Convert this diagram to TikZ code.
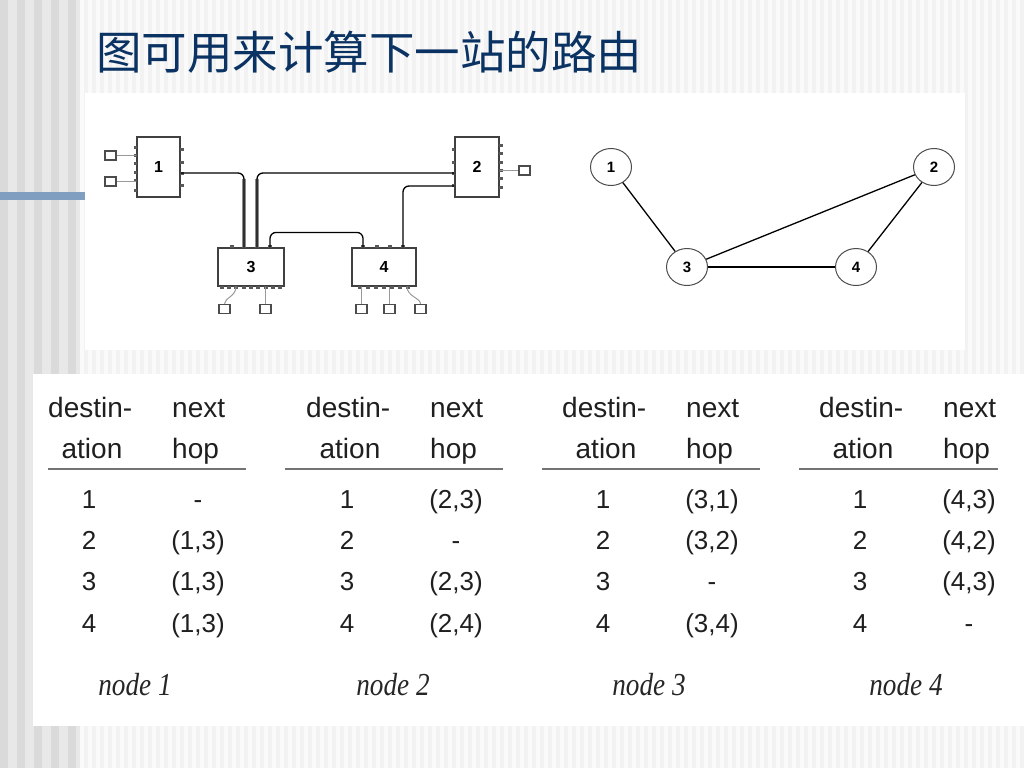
\documentclass[tikz,border=0pt]{standalone}
\usepackage{fontspec}
\setmainfont{Liberation Sans}
\newfontfamily\cjk{Noto Sans CJK SC}
\newfontfamily\tms{Liberation Serif}
\usetikzlibrary{calc,positioning,shapes.geometric}
\definecolor{titleblue}{RGB}{10,50,98}
\definecolor{barblue}{RGB}{128,158,192}
\definecolor{bgbase}{RGB}{242,242,242}
\definecolor{bglight}{RGB}{250,250,250}
\definecolor{stripedark}{RGB}{218,218,218}
\definecolor{stripelight}{RGB}{232,232,232}

\begin{document}
\begin{tikzpicture}[x=1pt,y=-1pt,
	router/.style={draw=black!75,line width=1.1pt,fill=white,inner sep=0pt,font=\bfseries\fontsize{16}{16}\selectfont},
	port/.style={fill=black!65},
	term/.style={draw=black!70,line width=1.3pt,fill=white,minimum width=11pt,minimum height=9pt,inner sep=0pt},
	wire/.style={draw=black!40,line width=1pt},
	link/.style={draw=black,line width=1.3pt,rounded corners=6pt},
	cableshade/.style={draw=black!45,line width=3.5pt},
	vertex/.style={ellipse,draw=black!70,line width=1pt,fill=white,minimum width=41pt,minimum height=37pt,inner sep=0pt,font=\bfseries\fontsize{15}{15}\selectfont},
	edge/.style={draw=black,line width=1.3pt},
	hdr/.style={font=\fontsize{28}{30}\selectfont,text=black!88,inner sep=0pt},
	cell/.style={font=\fontsize{26}{28}\selectfont,text=black!88,inner sep=0pt,anchor=base},
	tabrule/.style={draw=black!55,line width=2pt},
	tag/.style={font=\tms\itshape\fontsize{32}{32}\selectfont,text=black!85,inner sep=0pt,xscale=0.85}]
	
	\useasboundingbox (0,0) rectangle (1024,768);
	% background
	\fill[stripelight] (0,0) rectangle (80,768);
	\foreach \x in {0,17,...,68} \fill[stripedark] (\x,0) rectangle ++(8,768);
	\fill[bgbase] (80,0) rectangle (1024,768);
	\foreach \x in {80,88,...,1016} \fill[bglight] (\x,0) rectangle ++(4,768);
	\fill[barblue] (0,192) rectangle (85,200);
	\fill[white] (85,93) rectangle (965,350);
	\fill[white] (33,374) rectangle (1024,726);
	
	\node[anchor=base west,inner sep=0pt,font=\cjk\fontsize{45.5}{46}\selectfont,text=titleblue] (title) at (96,70) {图可用来计算下一站的路由};
	
	% routers and hosts
	\node[router,minimum width=43pt,minimum height=60pt] (r1) at (158.5,167) {1};
	\node[router,minimum width=44pt,minimum height=60pt] (r2) at (477,167) {2};
	\node[router,minimum width=66pt,minimum height=38pt] (r3) at (251,267) {3};
	\node[router,minimum width=64pt,minimum height=38pt] (r4) at (384,267) {4};
	
	\node[term] (t1a) at (110.5,155.5) {};
	\node[term] (t1b) at (110.5,181.5) {};
	\node[term] (t2a) at (524.5,170.5) {};
	\node[term] (t3a) at (224.5,309) {};
	\node[term] (t3b) at (265.5,309) {};
	\node[term] (t4a) at (361.5,309) {};
	\node[term] (t4b) at (389.5,309) {};
	\node[term] (t4c) at (420.5,309) {};
	
	\foreach \y in {147,155,163,172,180,190} \fill[port] (133.5,\y-1.5) rectangle ++(3.5,3);
	\foreach \y in {149,162,173,185} \fill[port] (180,\y-1.5) rectangle ++(3.5,3);
	\foreach \y in {149,162,173,185} \fill[port] (451.5,\y-1.5) rectangle ++(3.5,3);
	\foreach \y in {145,153,162,170,178,187} \fill[port] (499,\y-1.5) rectangle ++(3.5,3);
	\foreach \x in {232,244,257,270} \fill[port] (\x-1.75,244.5) rectangle ++(3.5,3.5);
	\foreach \x in {222,229,236,244,251,258,266,273,280} \fill[port] (\x-1.75,286) rectangle ++(3.5,3);
	\foreach \x in {363,377,390,403} \fill[port] (\x-1.75,244.5) rectangle ++(3.5,3.5);
	\foreach \x in {360,368,376,384,392,400,408} \fill[port] (\x-1.75,286) rectangle ++(3.5,3);
	
	\draw[wire] (t1a.east) -- (t1a.east -| r1.west);
	\draw[wire] (t1b.east) -- (t1b.east -| r1.west);
	\draw[wire] (r2.east |- t2a.west) -- (t2a.west);
	\draw[wire] ($(r3.south)+(-15,0)$) .. controls +(0,10) and +(0,-6) .. (t3a.north);
	\draw[wire] (t3b.north |- r3.south) -- (t3b.north);
	\draw[wire] (t4a.north |- r4.south) -- (t4a.north);
	\draw[wire] (t4b.north |- r4.south) -- (t4b.north);
	\draw[wire] ($(r4.south)+(23,0)$) .. controls +(0,10) and +(0,-6) .. (t4c.north);
	
	% links
	\draw[cableshade] ($(r3.north)+(-7,0)$) -- ++(0,-68);
	\draw[cableshade] ($(r3.north)+(6,0)$) -- ++(0,-68);
	\draw[link] ($(r1.east)+(0,6)$) -| ($(r3.north)+(-7,0)$);
	\draw[link] ($(r2.west)+(0,6)$) -| ($(r3.north)+(6,0)$);
	\draw[link] ($(r3.north)+(19,0)$) -- ++(0,-15) -| ($(r4.north)+(-21,0)$);
	\draw[link] ($(r4.north)+(19,0)$) |- ($(r2.west)+(0,19)$);
	
	% graph
	\node[vertex] (g1) at (611,167) {1};
	\node[vertex] (g2) at (934,167) {2};
	\node[vertex] (g3) at (687,267) {3};
	\node[vertex] (g4) at (856,267) {4};
	\draw[edge] (g1) -- (g3);
	\draw[edge] (g3) -- (g2);
	\draw[edge] (g2) -- (g4);
	\draw[edge] (g3) -- (g4);
	
	% routing tables
	\foreach \dx/\k/\ra/\rb/\ha/\hb/\hc/\hd in {0/1/48/246/-/{(1,3)}/{(1,3)}/{(1,3)},258/2/285/503/{(2,3)}/-/{(2,3)}/{(2,4)},514/3/542/760/{(3,1)}/{(3,2)}/-/{(3,4)},771/4/799/998/{(4,3)}/{(4,2)}/{(4,3)}/-}{
		\node[hdr,anchor=base west] (dst\k) at (\dx+48,417) {destin-};
		\node[hdr,anchor=base] (ati\k) at (\dx+92,458) {ation};
		\node[hdr,anchor=base west] (nxt\k) at (\dx+172,417) {next};
		\node[hdr,anchor=base west] (hop\k) at (\dx+172,458) {hop};
		\draw[tabrule] (\ra,469) -- (\rb,469);
		\node[cell] (d\k-1) at (\dx+89,508) {1};
		\node[cell] (d\k-2) at (\dx+89,549) {2};
		\node[cell] (d\k-3) at (\dx+89,590) {3};
		\node[cell] (d\k-4) at (\dx+89,632) {4};
		\node[cell] (h\k-1) at (\dx+198,508) {\ha};
		\node[cell] (h\k-2) at (\dx+198,549) {\hb};
		\node[cell] (h\k-3) at (\dx+198,590) {\hc};
		\node[cell] (h\k-4) at (\dx+198,632) {\hd};
		\node[tag] (tag\k) at (\dx+135,685) {node \k};
	}
\end{tikzpicture}
\end{document}
